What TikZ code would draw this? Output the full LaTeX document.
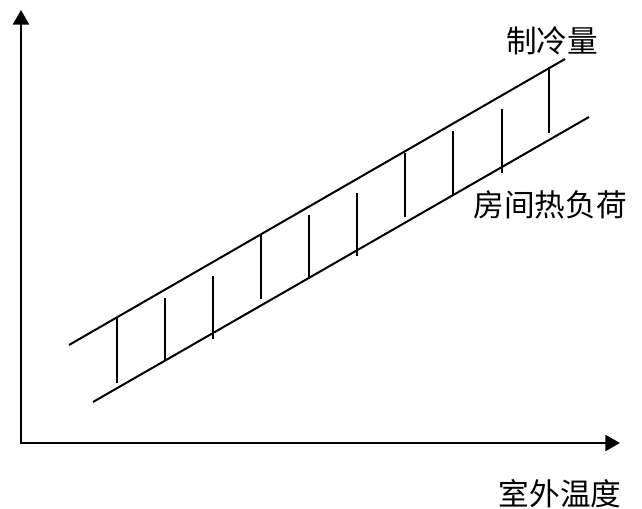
\documentclass[tikz,border=0pt]{standalone}
\usepackage{fontspec}
\newfontfamily\cjk{Noto Sans CJK SC}
\usetikzlibrary{arrows.meta}

\begin{document}
\begin{tikzpicture}[x=0.75pt,y=-0.75pt,>={Triangle[length=11pt,width=12pt]},line width=1.5pt,label node/.style={font=\cjk\fontsize{23}{23}\selectfont,inner sep=0pt}]
            \useasboundingbox (0,0) rectangle (642,509);

            \coordinate (O) at (21,443);
            \coordinate (ytop) at (21,10);
            \coordinate (xend) at (620,443);

            \coordinate (q1) at (69,345);
            \coordinate (q2) at (565,59);
            \coordinate (h1) at (93,402);
            \coordinate (h2) at (589,117);

            \node[label node] (Q) at (552,41) {制冷量};
            \node[label node] (H) at (550,205) {房间热负荷};
            \node[label node] (T) at (560,494) {室外温度};

            % axes
            \draw[<->,line width=1.8pt] (ytop) -- (O) -- (xend);

            \path
                (q1) edge (q2)
                (h1) edge (h2)
                ;

            % vertical bars between the two lines
            \foreach \x/\t/\b [count=\i] in {117/317/383,165/298/361,213/276/339,261/235/299,309/215/277,357/193/256,405/153/217,453/131/195,549/67/133}{
                \coordinate (t\i) at (\x,\t);
                \coordinate (b\i) at (\x,\b);
                \draw (t\i) -- (b\i);
            }
            \coordinate (t10) at (502,109);
            \coordinate (b10) at (502,173);
            \draw[line width=2.2pt] (t10) -- (b10);
        \end{tikzpicture}
\end{document}
